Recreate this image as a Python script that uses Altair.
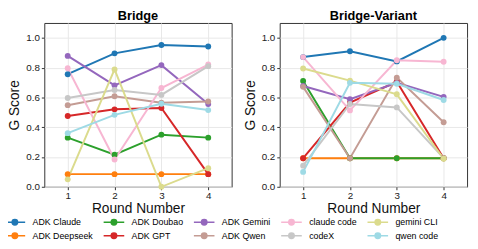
import altair as alt
import pandas as pd

rounds = [1, 2, 3, 4]
models = ["ADK Claude", "ADK Deepseek", "ADK Doubao", "ADK GPT", "ADK Gemini",
          "ADK Qwen", "claude code", "codeX", "gemini CLI", "qwen code"]
colors = ["#1f77b4", "#ff7f0e", "#2ca02c", "#d62728", "#9467bd",
          "#c49c94", "#f7b6d2", "#c7c7c7", "#dbdb8d", "#9edae5"]

bridge = {
    "ADK Claude":   [0.756, 0.896, 0.952, 0.942],
    "ADK Deepseek": [0.085, 0.085, 0.085, 0.085],
    "ADK Doubao":   [0.330, 0.215, 0.350, 0.330],
    "ADK GPT":      [0.475, 0.520, 0.529, 0.085],
    "ADK Gemini":   [0.879, 0.681, 0.817, 0.556],
    "ADK Qwen":     [0.548, 0.608, 0.565, 0.573],
    "claude code":  [0.796, 0.183, 0.663, 0.821],
    "codeX":        [0.596, 0.650, 0.617, 0.810],
    "gemini CLI":   [0.050, 0.788, 0.000, 0.125],
    "qwen code":    [0.360, 0.483, 0.558, 0.515],
}
variant = {
    "ADK Claude":   [0.871, 0.910, 0.842, 1.000],
    "ADK Deepseek": [0.192, 0.192, 0.192, 0.192],
    "ADK Doubao":   [0.710, 0.192, 0.192, 0.192],
    "ADK GPT":      [0.192, 0.565, 0.705, 0.192],
    "ADK Gemini":   [0.677, 0.588, 0.698, 0.604],
    "ADK Qwen":     [0.671, 0.192, 0.733, 0.433],
    "claude code":  [0.871, 0.513, 0.850, 0.840],
    "codeX":        [0.142, 0.556, 0.533, 0.192],
    "gemini CLI":   [0.794, 0.713, 0.621, 0.188],
    "qwen code":    [0.100, 0.698, 0.692, 0.583],
}

rows = []
for panel, d in [("Bridge", bridge), ("Bridge-Variant", variant)]:
    for m in models:
        for r, v in zip(rounds, d[m]):
            rows.append({"panel": panel, "model": m, "round": r, "score": v})
df = pd.DataFrame(rows)

legend_order = ["ADK Claude", "ADK Doubao", "ADK Gemini", "claude code", "gemini CLI",
                "ADK Deepseek", "ADK GPT", "ADK Qwen", "codeX", "qwen code"]
legend_colors = [colors[models.index(m)] for m in legend_order]

color = alt.Color(
    "model:N",
    scale=alt.Scale(domain=legend_order, range=legend_colors),
    legend=alt.Legend(
        title=None, orient="none", legendX=-38, legendY=195,
        columns=5, direction="horizontal",
        symbolType="M-1.5,0L1.5,0M-0.4,0A0.4,0.4,0,1,1,0.4,0A0.4,0.4,0,1,1,-0.4,0",
        symbolSize=196, symbolStrokeWidth=1.5, labelFontSize=9,
        columnPadding=7, rowPadding=-4, symbolOffset=0, padding=0,
        labelOffset=10, labelLimit=200,
    ),
)


def panel(name):
    base = alt.Chart(df[df["panel"] == name])
    x = alt.X("round:Q", scale=alt.Scale(domain=[0.5, 4.5], nice=False),
              axis=alt.Axis(values=rounds, format="d", title="Round Number",
                            titleFontSize=14, titleFontWeight="normal",
                            labelFontSize=10, grid=True, titlePadding=1,
                            labelPadding=1))
    y = alt.Y("score:Q", scale=alt.Scale(domain=[0, 1.1], nice=False),
              axis=alt.Axis(values=[0, 0.2, 0.4, 0.6, 0.8, 1.0], format=".1f",
                            title="G Score", titleFontSize=14,
                            titleFontWeight="normal", labelFontSize=10,
                            grid=True, titlePadding=4))
    lines = base.mark_line(strokeWidth=2).encode(x=x, y=y, color=color)
    pts = base.mark_point(filled=True, size=36, opacity=1).encode(x=x, y=y, color=color)
    return (lines + pts).properties(
        width=191, height=167,
        title=alt.TitleParams(name, fontSize=13, fontWeight="bold", offset=0),
    )


chart = alt.hconcat(panel("Bridge"), panel("Bridge-Variant"), spacing=10).properties(
    padding={"left": -1, "top": -1, "right": 2, "bottom": -3}
).configure(
    font="Liberation Sans",
).configure_view(
    stroke="#333333", strokeWidth=1,
).configure_axis(
    gridColor="#e8e8e8", gridWidth=1, domain=False, tickColor="#333333",
    tickSize=3, labelColor="#222222", titleColor="#111111",
)

chart.save("out.html", embed_options={"renderer": "svg", "actions": False})
